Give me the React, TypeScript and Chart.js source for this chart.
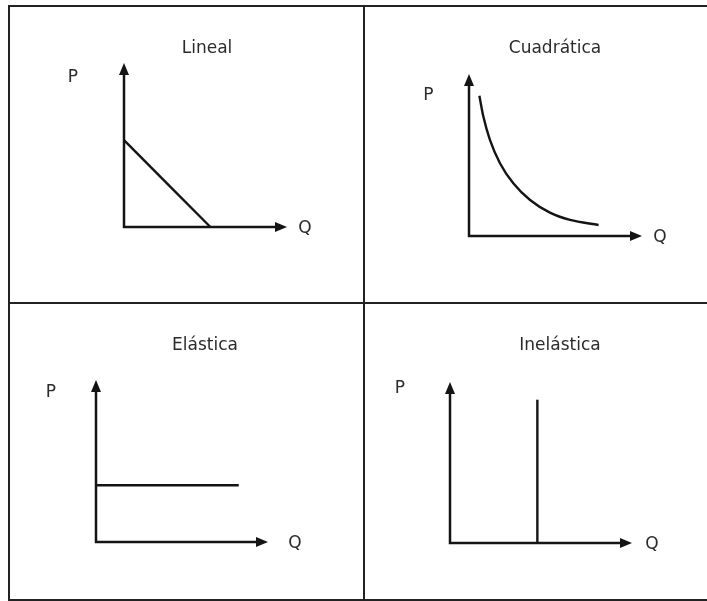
import React, { useEffect, useRef } from "react";
import { Chart, registerables } from "chart.js";

Chart.register(...registerables);

// ---- data ----
const panelTitles = ["Lineal", "Cuadrática", "Elástica", "Inelástica"];
const axisLabels = ["P", "Q"];
const axisMax = 10;

const linealX = [0, 5.3];
const linealY = [5.3, 0];
const cuadraticaX = [0.6, 0.83, 1.21, 1.79, 2.56, 3.53, 4.68, 5.84, 7.49];
const cuadraticaY = [8.66, 7.37, 5.93, 4.49, 3.25, 2.22, 1.44, 0.99, 0.68];
const elasticaX = [0, 8.3];
const elasticaY = [3.5, 3.5];
const inelasticaX = [4.8, 4.8];
const inelasticaY = [0, 8.9];

const seriesX = [linealX, cuadraticaX, elasticaX, inelasticaX];
const seriesY = [linealY, cuadraticaY, elasticaY, inelasticaY];

// ---- layout (page pixels) ----
const cells = [
  { x: 10, y: 7, w: 353, h: 295 },
  { x: 365, y: 7, w: 342, h: 295 },
  { x: 10, y: 304, w: 353, h: 295 },
  { x: 365, y: 304, w: 342, h: 295 },
];
const areas = [
  { left: 124, top: 63, right: 287, bottom: 227 },
  { left: 469, top: 74, right: 642, bottom: 236 },
  { left: 96, top: 380, right: 268, bottom: 542 },
  { left: 450, top: 382, right: 632, bottom: 543 },
];
const titlePos = [
  { x: 207, y: 53 },
  { x: 555, y: 53 },
  { x: 205, y: 350 },
  { x: 560, y: 350 },
];
const pPos = [
  { x: 73, y: 82 },
  { x: 428.5, y: 100 },
  { x: 51, y: 397 },
  { x: 400, y: 393 },
];
const qPos = [
  { x: 305, y: 233 },
  { x: 660, y: 242 },
  { x: 295, y: 548 },
  { x: 652, y: 549 },
];

const INK = "#141414";
const TEXT = "#2b2b2b";
const FONT = '17px "DejaVu Sans", sans-serif';

const demandPlugin = {
  id: "demandAxes",
  beforeDatasetsDraw(chart: any) {
    const { ctx } = chart;
    const xs = chart.scales.x;
    const ys = chart.scales.y;
    const x0 = xs.getPixelForValue(0);
    const x1 = xs.getPixelForValue(axisMax);
    const y0 = ys.getPixelForValue(0);
    const y1 = ys.getPixelForValue(axisMax);
    const AL = 12;
    const AW = 5;
    ctx.save();
    ctx.strokeStyle = INK;
    ctx.fillStyle = INK;
    ctx.lineWidth = 2.5;
    ctx.lineCap = "butt";
    ctx.beginPath();
    ctx.moveTo(x0, y0 + 1.25);
    ctx.lineTo(x0, y1 + AL - 1);
    ctx.moveTo(x0 - 1.25, y0);
    ctx.lineTo(x1 - AL + 1, y0);
    ctx.stroke();
    // arrow up
    ctx.beginPath();
    ctx.moveTo(x0, y1);
    ctx.lineTo(x0 - AW, y1 + AL);
    ctx.lineTo(x0 + AW, y1 + AL);
    ctx.closePath();
    ctx.fill();
    // arrow right
    ctx.beginPath();
    ctx.moveTo(x1, y0);
    ctx.lineTo(x1 - AL, y0 - AW);
    ctx.lineTo(x1 - AL, y0 + AW);
    ctx.closePath();
    ctx.fill();
    ctx.restore();
  },
  afterDraw(chart: any, _args: any, opts: any) {
    const { ctx } = chart;
    ctx.save();
    ctx.fillStyle = TEXT;
    ctx.font = FONT;
    ctx.textAlign = "center";
    ctx.textBaseline = "alphabetic";
    ctx.fillText(opts.title, opts.tx, opts.ty);
    ctx.fillText(axisLabels[0], opts.px, opts.py);
    ctx.fillText(axisLabels[1], opts.qx, opts.qy);
    ctx.restore();
  },
};

function Panel({ i }: { i: number }) {
  const ref = useRef<HTMLCanvasElement | null>(null);
  const cell = cells[i];
  const area = areas[i];
  useEffect(() => {
    if (!ref.current) return;
    const data = seriesX[i].map((x, k) => ({ x, y: seriesY[i][k] }));
    const chart = new Chart(ref.current, {
      type: "scatter",
      data: {
        datasets: [
          {
            data,
            showLine: true,
            borderColor: INK,
            borderWidth: 2.4,
            pointRadius: 0,
            pointHoverRadius: 0,
            cubicInterpolationMode: "monotone",
            clip: false,
          } as any,
        ],
      },
      options: {
        animation: false,
        responsive: false,
        devicePixelRatio: 1,
        events: [],
        layout: {
          padding: {
            left: area.left - cell.x,
            top: area.top - cell.y,
            right: cell.x + cell.w - area.right,
            bottom: cell.y + cell.h - area.bottom,
          },
        },
        scales: {
          x: { type: "linear", min: 0, max: axisMax, display: false },
          y: { type: "linear", min: 0, max: axisMax, display: false },
        },
        plugins: {
          legend: { display: false },
          tooltip: { enabled: false },
          title: { display: false },
          demandAxes: {
            title: panelTitles[i],
            tx: titlePos[i].x - cell.x,
            ty: titlePos[i].y - cell.y,
            px: pPos[i].x - cell.x,
            py: pPos[i].y - cell.y,
            qx: qPos[i].x - cell.x,
            qy: qPos[i].y - cell.y,
          },
        } as any,
      },
      plugins: [demandPlugin as any],
    });
    return () => chart.destroy();
  }, [i]);
  return (
    <canvas
      ref={ref}
      width={cell.w}
      height={cell.h}
      style={{ position: "absolute", left: cell.x, top: cell.y, width: cell.w, height: cell.h, display: "block" }}
    />
  );
}

const line = (left: number, top: number, width: number, height: number) => (
  <div style={{ position: "absolute", left, top, width, height, background: "#222" }} />
);

export default function App() {
  return (
    <div style={{ position: "absolute", left: 0, top: 0, width: 707, height: 601, background: "#fff", overflow: "hidden" }}>
      {line(8, 5, 699, 2)}
      {line(8, 302, 699, 2)}
      {line(8, 599, 699, 2)}
      {line(8, 5, 2, 596)}
      {line(363, 5, 2, 596)}
      {[0, 1, 2, 3].map((i) => (
        <Panel key={i} i={i} />
      ))}
    </div>
  );
}
